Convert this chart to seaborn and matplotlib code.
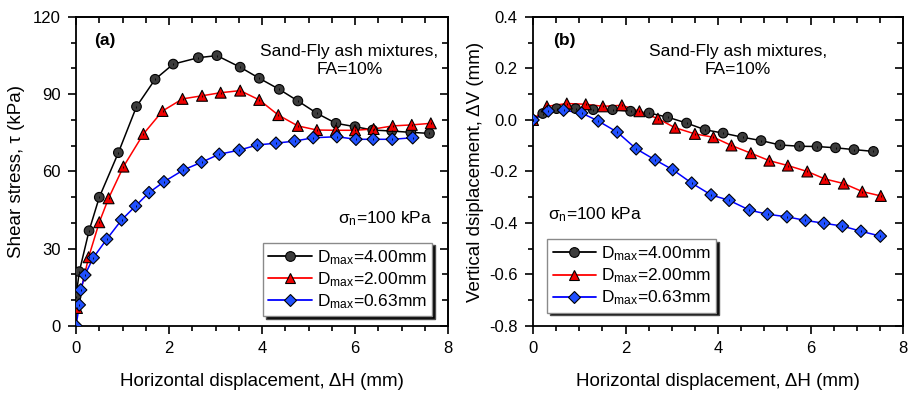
import numpy as np
import pandas as pd
import seaborn as sns
import matplotlib
matplotlib.use("Agg")
import matplotlib.pyplot as plt
from matplotlib.lines import Line2D
from matplotlib.ticker import MultipleLocator, FormatStrFormatter

# ---- (a) shear stress vs horizontal displacement ----
a_x_400 = [0.0, 0.07, 0.28, 0.50, 0.91, 1.30, 1.70, 2.09, 2.63, 3.03, 3.53, 3.94,
           4.37, 4.77, 5.18, 5.59, 6.00, 6.38, 6.79, 7.20, 7.60]
a_y_400 = [11.4, 21.1, 37.0, 50.0, 67.3, 85.2, 95.8, 101.7, 104.2, 105.0, 100.5, 96.2,
           91.9, 87.4, 82.6, 78.7, 77.4, 76.1, 75.7, 75.2, 74.8]

a_x_200 = [0.02, 0.27, 0.50, 0.70, 1.02, 1.45, 1.86, 2.29, 2.71, 3.11, 3.53, 3.94,
           4.35, 4.77, 5.18, 5.59, 6.00, 6.40, 6.81, 7.22, 7.63]
a_y_200 = [7.0, 26.7, 40.3, 49.6, 61.9, 74.6, 83.5, 88.2, 89.4, 90.6, 91.4, 87.8,
           81.9, 77.7, 76.1, 76.0, 76.0, 76.5, 77.7, 78.1, 78.7]

a_x_063 = [0.0, 0.07, 0.10, 0.19, 0.37, 0.66, 0.98, 1.28, 1.57, 1.89, 2.31, 2.70,
           3.08, 3.51, 3.90, 4.30, 4.70, 5.10, 5.61, 6.02, 6.39, 6.80, 7.24]
a_y_063 = [0.0, 8.2, 14.0, 19.8, 26.5, 33.7, 41.2, 46.6, 51.8, 56.0, 60.6, 63.6,
           66.7, 68.3, 70.3, 71.0, 71.8, 73.1, 73.5, 72.5, 72.5, 72.5, 73.1]

# ---- (b) vertical vs horizontal displacement ----
b_x_400 = [0.0, 0.21, 0.51, 0.92, 1.30, 1.72, 2.11, 2.51, 2.91, 3.32, 3.72, 4.11,
           4.53, 4.93, 5.34, 5.76, 6.14, 6.54, 6.94, 7.36]
b_y_400 = [0.0, 0.025, 0.044, 0.044, 0.040, 0.040, 0.034, 0.027, 0.011, -0.012, -0.038, -0.051,
           -0.067, -0.080, -0.097, -0.102, -0.103, -0.108, -0.115, -0.122]

b_x_200 = [0.0, 0.30, 0.73, 1.14, 1.51, 1.92, 2.30, 2.70, 3.07, 3.50, 3.90, 4.29,
           4.71, 5.11, 5.51, 5.93, 6.31, 6.72, 7.12, 7.52]
b_y_200 = [0.0, 0.053, 0.064, 0.061, 0.053, 0.057, 0.034, 0.005, -0.030, -0.054, -0.067, -0.099,
           -0.129, -0.158, -0.177, -0.200, -0.229, -0.247, -0.278, -0.295]

b_x_063 = [0.0, 0.33, 0.66, 1.05, 1.41, 1.82, 2.23, 2.64, 3.02, 3.43, 3.85, 4.24,
           4.68, 5.07, 5.49, 5.89, 6.29, 6.69, 7.09, 7.51]
b_y_063 = [0.0, 0.035, 0.038, 0.027, -0.004, -0.047, -0.112, -0.155, -0.193, -0.245, -0.291, -0.312,
           -0.350, -0.366, -0.376, -0.390, -0.401, -0.412, -0.432, -0.451]

series_names = ["4.00", "2.00", "0.63"]
series_labels = [r"D$_{\mathregular{max}}$=4.00mm",
                 r"D$_{\mathregular{max}}$=2.00mm",
                 r"D$_{\mathregular{max}}$=0.63mm"]
line_colors = {"4.00": "#000000", "2.00": "#ff0000", "0.63": "#0000ff"}
face_colors = {"4.00": "#3c3c3c", "2.00": "#f00000", "0.63": "#2050ff"}
marker_map = {"4.00": "o", "2.00": "^", "0.63": "D"}
size_map = {"4.00": 48, "2.00": 62, "0.63": 40}


def frame(xs, ys):
    parts = []
    for name, x, y in zip(series_names, xs, ys):
        parts.append(pd.DataFrame({"x": x, "y": y, "series": name}))
    return pd.concat(parts, ignore_index=True)


df_a = frame([a_x_400, a_x_200, a_x_063], [a_y_400, a_y_200, a_y_063])
df_b = frame([b_x_400, b_x_200, b_x_063], [b_y_400, b_y_200, b_y_063])

sns.set_theme(style="white")
plt.rcParams["font.family"] = ["Liberation Sans", "DejaVu Sans"]
plt.rcParams["mathtext.fontset"] = "custom"
plt.rcParams["mathtext.rm"] = "Liberation Sans"
plt.rcParams["mathtext.it"] = "Liberation Sans:italic"
plt.rcParams["axes.linewidth"] = 1.3
plt.rcParams["text.color"] = "black"
plt.rcParams["axes.labelcolor"] = "black"
plt.rcParams["xtick.color"] = "black"
plt.rcParams["ytick.color"] = "black"

TEXT_SIZE = 12.5
LABEL_SIZE = 13.5

fig = plt.figure(figsize=(9.14, 3.94), dpi=100)
ax_a = fig.add_axes([0.0832, 0.1726, 0.4070, 0.7843])
ax_b = fig.add_axes([0.5832, 0.1726, 0.4048, 0.7843])


def draw(ax, df):
    sns.lineplot(data=df, x="x", y="y", hue="series", palette=line_colors,
                 estimator=None, sort=False, legend=False, lw=1.1, ax=ax,
                 hue_order=series_names)
    sns.scatterplot(data=df, x="x", y="y", hue="series", style="series",
                    size="series", palette=face_colors, markers=marker_map,
                    sizes=size_map, hue_order=series_names, style_order=series_names,
                    size_order=series_names, edgecolor="black", linewidth=0.8,
                    legend=False, ax=ax, zorder=3)
    ax.scatter(df["x"], df["y"], marker="|", s=4, c="black", linewidths=0.6, zorder=4)


def style_axes(ax, ymin, ymax, ymajor, yminor):
    ax.set_xlim(0, 8)
    ax.set_ylim(ymin, ymax)
    ax.xaxis.set_major_locator(MultipleLocator(2))
    ax.xaxis.set_minor_locator(MultipleLocator(0.5))
    ax.yaxis.set_major_locator(MultipleLocator(ymajor))
    ax.yaxis.set_minor_locator(MultipleLocator(yminor))
    ax.tick_params(which="both", direction="out", width=1.2, colors="black",
                   labelsize=12, top=False, right=False, bottom=True, left=True)
    ax.tick_params(which="major", length=6, pad=5)
    ax.tick_params(which="minor", length=3.5)
    for s in ax.spines.values():
        s.set_color("black")
        s.set_linewidth(1.3)
    top = ax.secondary_xaxis("top")
    top.xaxis.set_major_locator(MultipleLocator(2))
    top.xaxis.set_minor_locator(MultipleLocator(0.5))
    top.tick_params(which="both", direction="in", width=1.2, labeltop=False)
    top.tick_params(which="major", length=6)
    top.tick_params(which="minor", length=4)
    right = ax.secondary_yaxis("right")
    right.yaxis.set_major_locator(MultipleLocator(ymajor))
    right.yaxis.set_minor_locator(MultipleLocator(yminor))
    right.tick_params(which="both", direction="in", width=1.2, labelright=False)
    right.tick_params(which="major", length=6)
    right.tick_params(which="minor", length=4)
    ax.set_xlabel("Horizontal displacement, ΔH (mm)", fontsize=LABEL_SIZE, labelpad=12)


def add_legend(ax, anchor):
    handles = []
    for name, lab in zip(series_names, series_labels):
        handles.append(Line2D([], [], color=line_colors[name], lw=1.3,
                              marker=marker_map[name], markersize=7 if name != "0.63" else 6,
                              markerfacecolor=face_colors[name], markeredgecolor="black",
                              markeredgewidth=0.8, label=lab))
    leg = ax.legend(handles=handles, loc="lower left", bbox_to_anchor=anchor,
                    borderaxespad=0, fontsize=TEXT_SIZE, handlelength=2.5, handletextpad=0.3,
                    labelspacing=0.2, borderpad=0.3, fancybox=False, framealpha=1,
                    edgecolor="#8a8a8a",
                    shadow={"facecolor": "black", "alpha": 1.0})
    leg.get_frame().set_linewidth(1.0)
    return leg


draw(ax_a, df_a)
style_axes(ax_a, 0, 120, 30, 10)
ax_a.set_ylabel("Shear stress, τ (kPa)", fontsize=LABEL_SIZE, labelpad=6)
ax_a.text(0.078, 0.925, "(a)", transform=ax_a.transAxes, fontsize=TEXT_SIZE,
          fontweight="bold", ha="center", va="center")
ax_a.text(0.735, 0.86, "Sand-Fly ash mixtures,\nFA=10%", transform=ax_a.transAxes,
          fontsize=TEXT_SIZE, ha="center", va="center", linespacing=1.25)
ax_a.text(0.957, 0.346, r"$\mathregular{\sigma_n}$=100 kPa", transform=ax_a.transAxes,
          fontsize=TEXT_SIZE, ha="right", va="center")
add_legend(ax_a, (0.503, 0.032))

draw(ax_b, df_b)
style_axes(ax_b, -0.8, 0.4, 0.2, 0.1)
ax_b.yaxis.set_major_formatter(FormatStrFormatter("%.1f"))
ax_b.set_ylabel("Vertical dsiplacement, ΔV (mm)", fontsize=LABEL_SIZE, labelpad=4)
ax_b.text(0.086, 0.925, "(b)", transform=ax_b.transAxes, fontsize=TEXT_SIZE,
          fontweight="bold", ha="center", va="center")
ax_b.text(0.553, 0.86, "Sand-Fly ash mixtures,\nFA=10%", transform=ax_b.transAxes,
          fontsize=TEXT_SIZE, ha="center", va="center", linespacing=1.25)
ax_b.text(0.041, 0.36, r"$\mathregular{\sigma_n}$=100 kPa", transform=ax_b.transAxes,
          fontsize=TEXT_SIZE, ha="left", va="center")
add_legend(ax_b, (0.039, 0.043))

fig.savefig("out.png", dpi=100)
